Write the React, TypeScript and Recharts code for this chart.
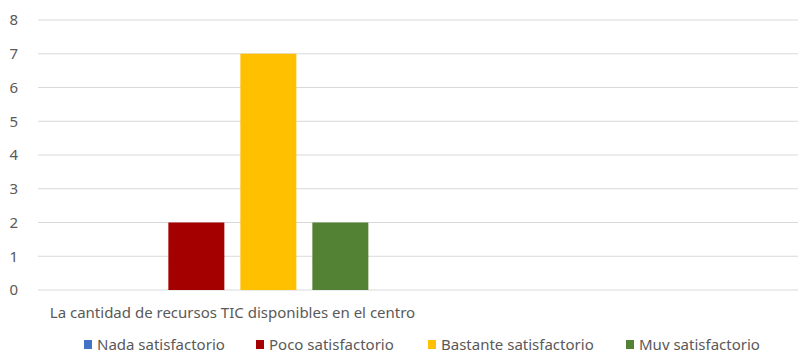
import React from "react";
import { BarChart, Bar, XAxis, YAxis, CartesianGrid, Legend } from "recharts";

const categories = ["La cantidad de recursos TIC disponibles en el centro", ""];
const nada = [0, null];
const poco = [2, null];
const bastante = [7, null];
const muy = [2, null];
const yTicks = [0, 1, 2, 3, 4, 5, 6, 7, 8];

const series = [
  { key: "nada", name: "Nada satisfactorio", color: "#4472C4" },
  { key: "poco", name: "Poco satisfactorio", color: "#A50000" },
  { key: "bastante", name: "Bastante satisfactorio", color: "#FFC000" },
  { key: "muy", name: "Muy satisfactorio", color: "#548235" },
];

const data = categories.map((c, i) => ({
  cat: c,
  nada: nada[i],
  poco: poco[i],
  bastante: bastante[i],
  muy: muy[i],
}));

const FONT = "'Noto Sans', sans-serif";

const legendOffsets = [84, 256, 428, 626];

const LegendContent = () => (
  <div style={{ position: "relative", height: 28, fontFamily: FONT, fontSize: 15, lineHeight: "18px", color: "#595959" }}>
    {series.map((s, i) => (
      <div
        key={s.key}
        style={{ position: "absolute", left: legendOffsets[i], top: 5, display: "flex", alignItems: "center", whiteSpace: "nowrap" }}
      >
        <span style={{ display: "inline-block", width: 8, height: 9, background: s.color, marginRight: 5 }} />
        <span>{s.name}</span>
      </div>
    ))}
  </div>
);

export default function App() {
  return (
    <div style={{ margin: -8, width: 806, height: 358, overflow: "hidden", background: "#fff", position: "relative" }}>
      <BarChart
        width={816}
        height={358}
        data={data}
        margin={{ top: 20, right: 0, bottom: 0, left: 0 }}
        barCategoryGap="15%"
        barGap={16}
      >
        <CartesianGrid vertical={false} stroke="#d9d9d9" strokeWidth={1} />
        <XAxis
          dataKey="cat"
          axisLine={false}
          tickLine={false}
          height={40}
          interval={0}
          tick={{ fill: "#595959", fontSize: 15, fontFamily: FONT }}
          tickMargin={11}
        />
        <YAxis
          width={38}
          domain={[0, 8]}
          ticks={yTicks}
          axisLine={false}
          tickLine={false}
          tickSize={0}
          tickMargin={20}
          tick={{ fill: "#595959", fontSize: 15, fontFamily: FONT }}
        />
        <Legend verticalAlign="bottom" height={28} content={<LegendContent />} />
        {series.map((s) => (
          <Bar key={s.key} dataKey={s.key} name={s.name} fill={s.color} isAnimationActive={false} />
        ))}
      </BarChart>
    </div>
  );
}
